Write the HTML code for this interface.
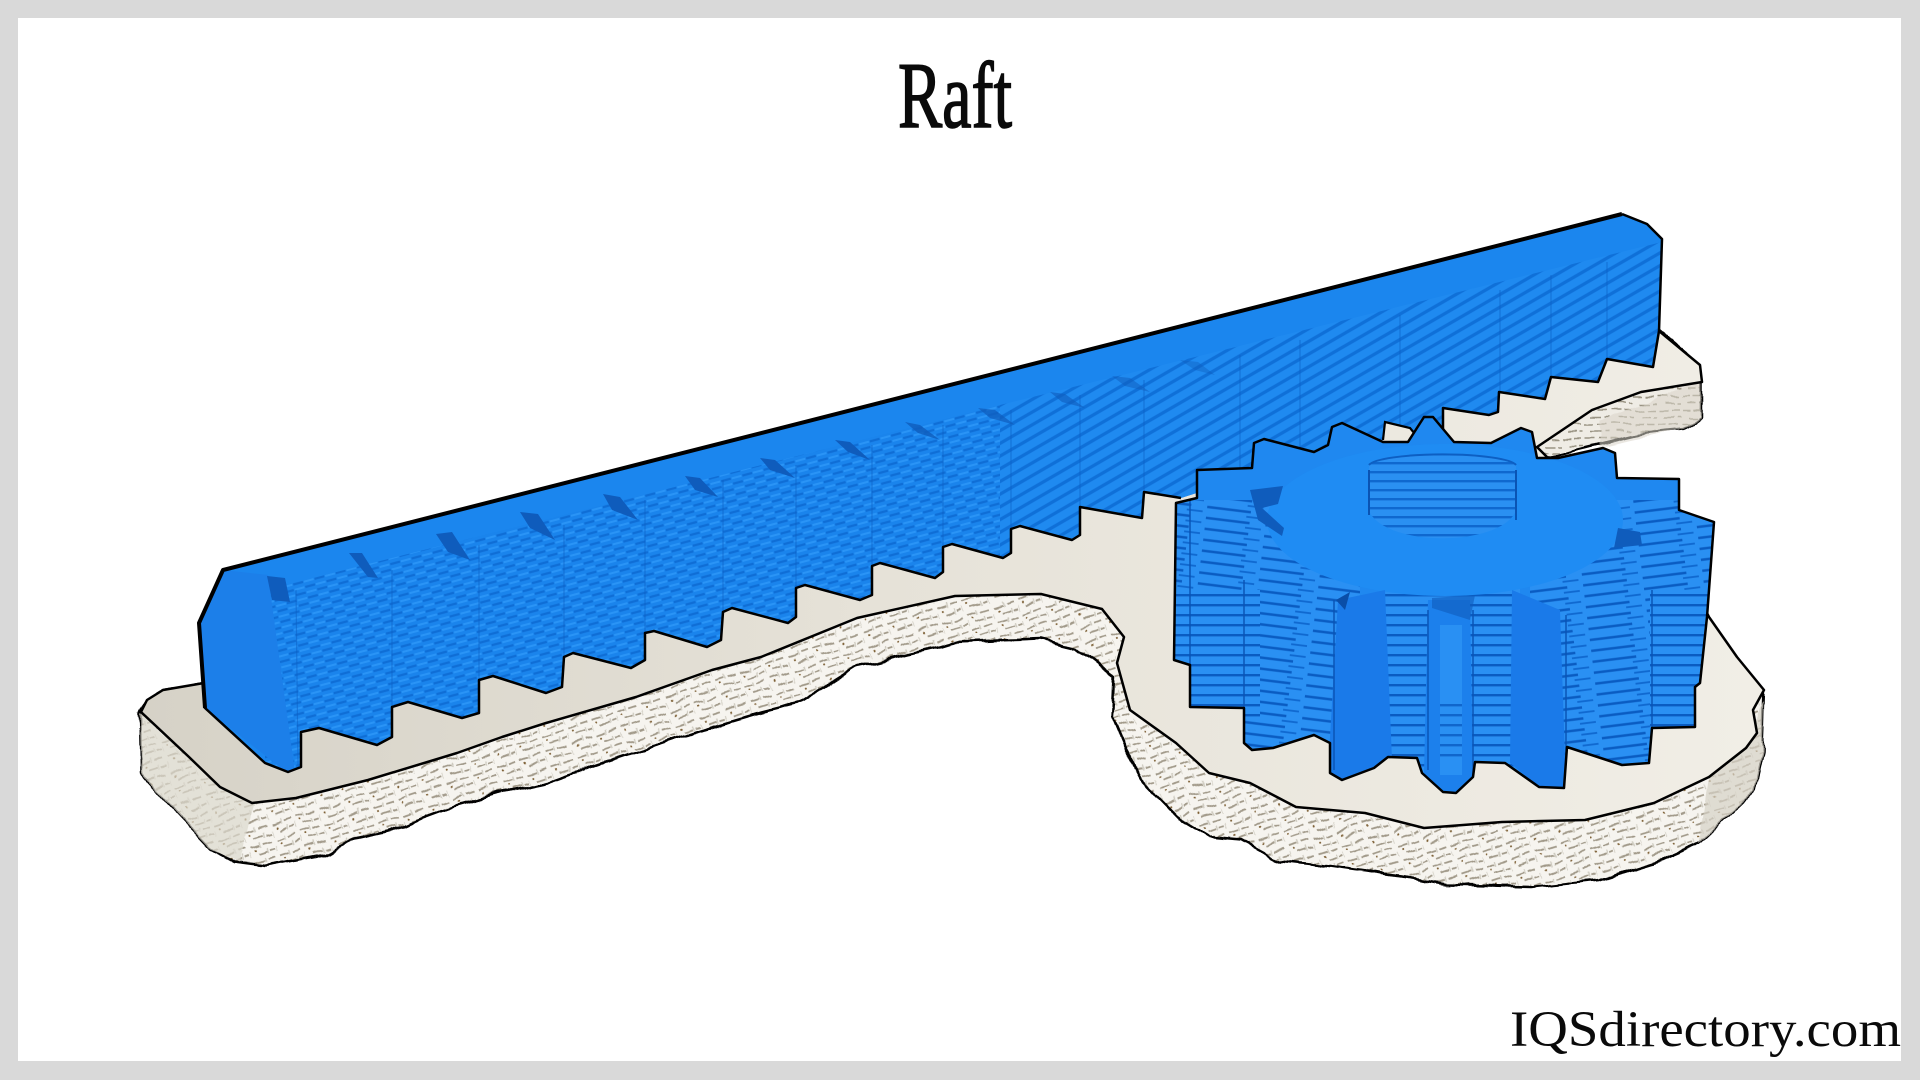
<!DOCTYPE html>
<html><head><meta charset="utf-8"><title>Raft</title>
<style>html,body{margin:0;padding:0;background:#d9d9d9}svg{display:block}</style></head>
<body>
<svg xmlns="http://www.w3.org/2000/svg" width="1920" height="1080" viewBox="0 0 1920 1080">
<defs>
<filter id="wob" x="-5%" y="-5%" width="110%" height="110%"><feTurbulence type="fractalNoise" baseFrequency="0.035" numOctaves="2" seed="4" result="n"/><feDisplacementMap in="SourceGraphic" in2="n" scale="9" xChannelSelector="R" yChannelSelector="G"/></filter>
<filter id="soft" x="-2%" y="-2%" width="104%" height="104%"><feGaussianBlur stdDeviation="0.6"/></filter>
<linearGradient id="topG" x1="0" x2="1" y1="0" y2="0"><stop offset="0" stop-color="#d6d2c7"/><stop offset="0.45" stop-color="#e6e2d8"/><stop offset="1" stop-color="#f1eee6"/></linearGradient>
<pattern id="brick" width="26" height="16" patternUnits="userSpaceOnUse" patternTransform="rotate(-18)">
<rect width="26" height="16" fill="#f6f4ef"/>
<path d="M2 4h9M15 4h8M8 12h9M20 12h5" stroke="#a09888" stroke-width="1.7" fill="none"/>
<path d="M12 1v5M0 9v6M18 9v5" stroke="#cdc9be" stroke-width="1.3"/>
<circle cx="6" cy="8" r="1" fill="#7a5c30"/>
</pattern>
<pattern id="brickR" width="24" height="14" patternUnits="userSpaceOnUse">
<rect width="24" height="14" fill="#efece5"/>
<path d="M2 4h9M14 4h8M8 11h9M20 11h4" stroke="#9a9484" stroke-width="1.6" fill="none"/>
</pattern>
<pattern id="weave" width="22" height="11" patternUnits="userSpaceOnUse" patternTransform="rotate(-15)">
<rect width="22" height="11" fill="#1a84ec"/>
<path d="M0 2.5h10M11 8h10" stroke="#0f6ed6" stroke-width="2.2"/>
<path d="M11 2.5h10M0 8h10" stroke="#2a94f6" stroke-width="2"/>
</pattern>
<pattern id="diag" width="30" height="11" patternUnits="userSpaceOnUse" patternTransform="rotate(-30)">
<rect width="30" height="11" fill="#1f8af0"/>
<path d="M0 4h30" stroke="#0f70d8" stroke-width="3.2"/>
</pattern>
<pattern id="rows" width="40" height="10" patternUnits="userSpaceOnUse">
<rect width="40" height="10" fill="#2a90f3"/>
<rect y="4" width="40" height="2.4" fill="#0a5cc2"/>
</pattern>
<pattern id="rowsW" width="60" height="11" patternUnits="userSpaceOnUse" patternTransform="rotate(7)">
<rect width="60" height="11" fill="#2a90f3"/>
<path d="M0 4h44" stroke="#0a5cc2" stroke-width="2.4"/>
<path d="M40 9h16" stroke="#0f68cf" stroke-width="1.8"/>
</pattern>
<pattern id="rowsE" width="60" height="11" patternUnits="userSpaceOnUse" patternTransform="rotate(-7)">
<rect width="60" height="11" fill="#2a90f3"/>
<path d="M0 4h44" stroke="#0a5cc2" stroke-width="2.4"/>
<path d="M40 9h16" stroke="#0f68cf" stroke-width="1.8"/>
</pattern>
<pattern id="hubRows" width="30" height="9" patternUnits="userSpaceOnUse">
<rect width="30" height="9" fill="#2a90f2"/>
<rect y="3" width="30" height="2.4" fill="#0f68cf"/>
</pattern>
<clipPath id="rackClip"><polygon points="223,570 199,623 205,708 265,763 288,772 301,767 301,732 319,728 377,745 392,737 392,707 408,702 462,718 479,713 479,680 493,676 546,693 562,687 564,657 573,653 631,668 645,660 645,633 654,631 707,647 721,640 723,612 732,608 788,623 796,617 796,588 805,585 860,600 872,595 872,566 880,563 935,578 943,572 943,547 952,544 1003,558 1011,553 1011,529 1020,526 1072,540 1080,535 1080,507 1142,518 1144,492 1181,498 1300,460 1383,440 1385,422 1410,428 1420,440 1443,440 1443,408 1489,415 1498,412 1499,392 1545,399 1551,377 1598,382 1607,359 1653,367 1659,331 1662,239 1647,224 1622,214 227,569"/></clipPath>
<clipPath id="gearClip"><polygon points="1176,503 1197,498 1197,470 1252,468 1254,443 1264,439 1314,452 1328,445 1332,427 1342,423 1383,442 1408,442 1424,417 1433,417 1454,442 1491,443 1521,428 1532,432 1537,458 1558,458 1603,448 1615,453 1617,478 1679,479 1679,510 1714,522 1707,617 1700,683 1695,687 1695,727 1652,728 1649,763 1622,765 1567,747 1564,788 1539,787 1505,763 1475,762 1473,777 1456,793 1443,792 1422,773 1417,758 1388,757 1374,768 1342,780 1330,773 1330,743 1314,735 1273,748 1252,750 1244,743 1244,708 1190,707 1190,665 1174,660"/></clipPath>
</defs>

<rect width="1920" height="1080" fill="#d9d9d9"/>
<rect x="18" y="18" width="1883" height="1043" fill="#ffffff"/>

<text x="898" y="127" font-family="'Liberation Serif',serif" font-size="94" textLength="114" lengthAdjust="spacingAndGlyphs" fill="#0a0a0a" stroke="#0a0a0a" stroke-width="1.6">Raft</text>
<text x="1510" y="1046" font-family="'Liberation Serif',serif" font-size="51" textLength="391" lengthAdjust="spacingAndGlyphs" fill="#0a0a0a">IQSdirectory.com</text>

<g filter="url(#wob)">
<!-- upper right raft side -->
<polygon points="1659,331 1702,367 1702,416 1684,429 1645,433 1537,459 1530,430 1592,395 1641,378" fill="url(#brickR)" stroke="#000" stroke-width="2.5" stroke-linejoin="round"/>
<polygon points="1659,331 1702,367 1702,416 1684,429 1600,447 1600,420 1690,385" fill="#d8d4c8" opacity=".55"/>
<!-- raft side silhouette -->
<polygon points="204,683 163,690 147,700 140,713 141,773 158,793 212,850 234,862 265,866 323,855 354,840 390,832 421,818 448,808 502,793 546,783 591,767 658,745 703,730 761,713 800,703 857,667 955,643 1041,640 1078,649 1114,677 1112,717 1126,750 1142,780 1181,820 1209,837 1241,840 1282,862 1337,868 1401,877 1447,885 1530,887 1599,880 1654,863 1700,843 1732,813 1753,793 1762,753 1764,687 1500,600 1000,560 500,650" fill="url(#brick)" stroke="#000" stroke-width="2.5" stroke-linejoin="round"/>
<polygon points="140,713 141,773 158,793 212,850 240,862 255,800 189,757" fill="#dcd8cd" opacity=".7"/>
<polygon points="1700,843 1732,813 1753,793 1762,753 1764,700 1746,748 1709,777" fill="#d5d1c6" opacity=".7"/>
</g>
<!-- raft top surface -->
<polygon points="204,683 163,690 147,700 141,712 189,757 220,787 252,803 296,798 368,780 457,753 502,737 546,723 636,697 712,670 761,657 857,618 955,596 1041,594 1102,609 1124,637 1117,663 1130,710 1176,743 1209,773 1250,783 1296,807 1365,813 1424,828 1502,822 1585,820 1654,803 1709,777 1746,748 1757,733 1753,710 1764,690 1737,657 1709,617 1650,500 1560,470 1537,447 1592,410 1641,392 1702,382 1700,365 1659,331" fill="url(#topG)" stroke="#000" stroke-width="2.5" stroke-linejoin="round"/>

<!-- rack -->
<polygon points="223,570 199,623 205,708 265,763 288,772 301,767 301,732 319,728 377,745 392,737 392,707 408,702 462,718 479,713 479,680 493,676 546,693 562,687 564,657 573,653 631,668 645,660 645,633 654,631 707,647 721,640 723,612 732,608 788,623 796,617 796,588 805,585 860,600 872,595 872,566 880,563 935,578 943,572 943,547 952,544 1003,558 1011,553 1011,529 1020,526 1072,540 1080,535 1080,507 1142,518 1144,492 1181,498 1300,460 1383,440 1385,422 1410,428 1420,440 1443,440 1443,408 1489,415 1498,412 1499,392 1545,399 1551,377 1598,382 1607,359 1653,367 1659,331 1662,239 1647,224 1622,214 227,569" fill="#1b86ee"/>
<g clip-path="url(#rackClip)">
<polygon points="265,590 1000,405 1000,600 265,800" fill="url(#weave)"/>
<polygon points="1000,405 1670,240 1670,400 1000,600" fill="url(#diag)"/>
<polygon points="199,623 223,570 268,575 296,780 205,708" fill="#1c7fe9"/>
<path d="M296,590L298,765M392,570L392,735M479,545L479,712M564,525L564,690M645,500L645,660M723,480L723,640M796,465L796,617M872,445L872,595M943,425L943,572M1011,410L1011,553M1080,395L1080,535M1144,380L1144,518M1240,355L1240,480M1300,340L1300,460M1400,315L1400,430M1500,290L1500,412M1551,275L1551,400M1607,262L1607,380" stroke="#0d60c4" stroke-width="1.2" opacity=".55" fill="none"/>
</g>
<g fill="#0f5cbc">
<path d="M267,576L285,578L290,602L272,600Z"/>
<path d="M349,553L362,553L378,578L368,577Z"/>
<path d="M436,534L452,532L470,560L448,552Z"/>
<path d="M520,512L538,514L555,540L530,528Z"/>
<path d="M603,494L620,497L638,520L612,510Z"/>
<path d="M685,476L700,478L718,497L695,490Z"/>
<path d="M760,458L775,460L795,478L770,470Z"/>
<path d="M835,440L850,442L870,460L848,452Z"/>
<path d="M905,422L920,425L940,440L918,433Z" opacity=".8"/>
<path d="M978,408L995,410L1015,425L990,418Z" opacity=".7"/>
<path d="M1050,392L1065,394L1085,408L1062,402Z" opacity=".6"/>
<path d="M1112,376L1130,378L1150,392L1125,386Z" opacity=".5"/>
<path d="M1180,360L1198,362L1215,375L1195,370Z" opacity=".4"/>
</g>
<polyline points="223,570 199,623 205,708 265,763 288,772 301,767 301,732 319,728 377,745 392,737 392,707 408,702 462,718 479,713 479,680 493,676 546,693 562,687 564,657 573,653 631,668 645,660 645,633 654,631 707,647 721,640 723,612 732,608 788,623 796,617 796,588 805,585 860,600 872,595 872,566 880,563 935,578 943,572 943,547 952,544 1003,558 1011,553 1011,529 1020,526 1072,540 1080,535 1080,507 1142,518 1144,492 1181,498" fill="none" stroke="#000" stroke-width="2.5" stroke-linejoin="round"/>
<polyline points="1383,440 1385,422 1410,428 1420,440" fill="none" stroke="#000" stroke-width="2.2"/>
<polyline points="1443,440 1443,408 1489,415 1498,412 1499,392 1545,399 1551,377 1598,382 1607,359 1653,367 1659,331 1662,239 1647,224 1622,214" fill="none" stroke="#000" stroke-width="2.5" stroke-linejoin="round"/>
<polyline points="1622,214 227,569 223,570 199,623 205,708" fill="none" stroke="#000" stroke-width="4" stroke-linejoin="round"/>

<!-- gear -->
<polygon points="1176,503 1197,498 1197,470 1252,468 1254,443 1264,439 1314,452 1328,445 1332,427 1342,423 1383,442 1408,442 1424,417 1433,417 1454,442 1491,443 1521,428 1532,432 1537,458 1558,458 1603,448 1615,453 1617,478 1679,479 1679,510 1714,522 1707,617 1700,683 1695,687 1695,727 1652,728 1649,763 1622,765 1567,747 1564,788 1539,787 1505,763 1475,762 1473,777 1456,793 1443,792 1422,773 1417,758 1388,757 1374,768 1342,780 1330,773 1330,743 1314,735 1273,748 1252,750 1244,743 1244,708 1190,707 1190,665 1174,660" fill="#1f88f0"/>
<g clip-path="url(#gearClip)">
<rect x="1170" y="500" width="190" height="310" fill="url(#rowsW)"/>
<rect x="1530" y="500" width="190" height="310" fill="url(#rowsE)"/>
<rect x="1380" y="560" width="140" height="230" fill="url(#rows)"/>
<rect x="1170" y="590" width="90" height="130" fill="url(#rows)"/>
<rect x="1650" y="590" width="70" height="140" fill="url(#rows)"/>
<!-- top disc -->
<ellipse cx="1445" cy="520" rx="178" ry="76" fill="#1f8cf3"/>
<!-- front teeth -->
<polygon points="1338,600 1385,590 1392,760 1342,782 1328,772" fill="#1a7ae9"/>
<polygon points="1428,600 1470,600 1473,777 1456,793 1443,792 1424,773" fill="#1c80ec"/>
<polygon points="1512,590 1560,610 1566,788 1539,787 1510,763" fill="#1a7ae9"/>
<rect x="1440" y="625" width="22" height="150" fill="#2d95f5" opacity=".75"/>
<rect x="1440" y="700" width="22" height="60" fill="url(#rows)" opacity=".8"/>
<path d="M1334,600L1334,770M1428,610L1428,770M1473,610L1473,775M1566,615L1566,780M1244,580L1244,740M1652,590L1652,730M1190,500L1190,665" stroke="#0a54b4" stroke-width="1.8" fill="none" opacity=".8"/>
<!-- dark notches -->
<path d="M1250,490L1283,486L1278,504L1262,508L1284,528L1282,536L1258,520Z" fill="#0f5cbc"/>
<polygon points="1618,528 1640,532 1642,545 1614,548" fill="#0f5cbc"/>
<polygon points="1336,600 1350,592 1345,610" fill="#0a4ea8"/>
<polygon points="1432,598 1475,595 1470,620 1432,608" fill="#0f5cbc" opacity=".6"/>
<!-- hub -->
<path d="M1369,465L1369,510A74,32 0 0 0 1516,510L1516,465A74,12 0 0 0 1369,465Z" fill="url(#hubRows)"/>
<path d="M1369,465A74,12 0 0 1 1516,465" fill="none" stroke="#0d5fc3" stroke-width="2"/>
<path d="M1369,470L1369,515M1516,470L1516,520" stroke="#0a54b4" stroke-width="2"/>
</g>
<polygon points="1176,503 1197,498 1197,470 1252,468 1254,443 1264,439 1314,452 1328,445 1332,427 1342,423 1383,442 1408,442 1424,417 1433,417 1454,442 1491,443 1521,428 1532,432 1537,458 1558,458 1603,448 1615,453 1617,478 1679,479 1679,510 1714,522 1707,617 1700,683 1695,687 1695,727 1652,728 1649,763 1622,765 1567,747 1564,788 1539,787 1505,763 1475,762 1473,777 1456,793 1443,792 1422,773 1417,758 1388,757 1374,768 1342,780 1330,773 1330,743 1314,735 1273,748 1252,750 1244,743 1244,708 1190,707 1190,665 1174,660" fill="none" stroke="#000" stroke-width="2.5" stroke-linejoin="round"/>
</svg>
</body></html>
